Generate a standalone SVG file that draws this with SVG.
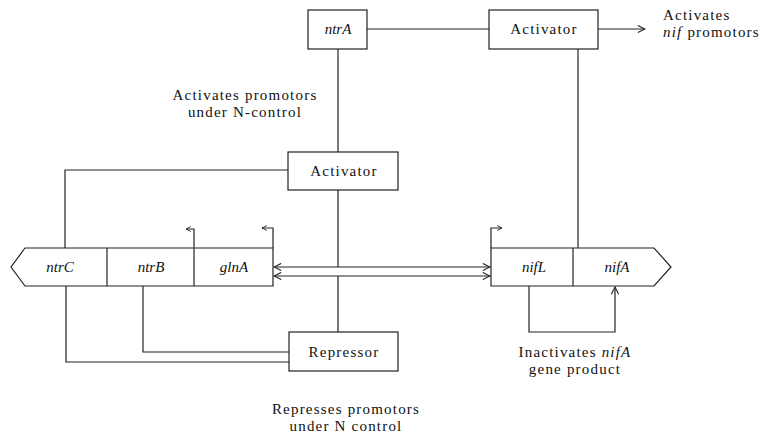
<svg xmlns="http://www.w3.org/2000/svg" width="760" height="437" viewBox="0 0 760 437">
<style>
.box{fill:#fff;stroke:#222;stroke-width:1.2}
.ln{fill:none;stroke:#222;stroke-width:1.2}
.t{font-family:"Liberation Serif","Times New Roman",serif;font-size:15px;fill:#111;letter-spacing:1.2px}
.g{font-family:"Liberation Serif","Times New Roman",serif;font-size:15px;font-style:italic;fill:#111}
.m{text-anchor:middle}
</style>
<defs>
<marker id="ah" viewBox="0 0 10 10" refX="9" refY="5" markerWidth="9" markerHeight="9" markerUnits="userSpaceOnUse" orient="auto-start-reverse">
<path d="M1,1 L9,5 L1,9" fill="none" stroke="#222" stroke-width="1.2"/>
</marker>
<marker id="sh" viewBox="0 0 10 10" refX="9" refY="5" markerWidth="6" markerHeight="6" markerUnits="userSpaceOnUse" orient="auto">
<path d="M1,1 L9,5 L1,9" fill="none" stroke="#222" stroke-width="1.5"/>
</marker>
</defs>
<g id="connectors">
<line class="ln" x1="367" y1="29" x2="489" y2="29"/>
<line class="ln" x1="598" y1="29" x2="645" y2="29" marker-end="url(#ah)"/>
<line class="ln" x1="338" y1="49" x2="338" y2="152"/>
<line class="ln" x1="578" y1="49" x2="578" y2="248"/>
<polyline class="ln" points="288,170 65,170 65,248"/>
<line class="ln" x1="338" y1="190" x2="338" y2="267"/>
<line class="ln" x1="338" y1="276" x2="338" y2="332"/>
<polyline class="ln" points="194,248 194,229 186,229" marker-end="url(#sh)"/>
<polyline class="ln" points="273,248 273,228 262,228" marker-end="url(#sh)"/>
<polyline class="ln" points="491,248 491,228 502,228" marker-end="url(#sh)"/>
<line class="ln" x1="274" y1="267" x2="490" y2="267" marker-start="url(#ah)" marker-end="url(#ah)"/>
<line class="ln" x1="274" y1="276" x2="490" y2="276" marker-start="url(#ah)" marker-end="url(#ah)"/>
<polyline class="ln" points="66,286 66,362 289,362"/>
<polyline class="ln" points="143,286 143,352 289,352"/>
<polyline class="ln" points="529,286 529,332 615,332 615,287" marker-end="url(#ah)"/>
</g>
<g id="ntrA">
<rect class="box" x="308" y="10" width="59" height="39"/>
<text class="g m" x="338" y="34">ntrA</text>
</g>
<g id="activator-top">
<rect class="box" x="489" y="10" width="109" height="39"/>
<text class="t m" x="544" y="34">Activator</text>
</g>
<g id="activator-mid">
<rect class="box" x="288" y="152" width="110" height="38"/>
<text class="t m" x="344" y="176">Activator</text>
</g>
<g id="repressor">
<rect class="box" x="289" y="332" width="109" height="39"/>
<text class="t m" x="344" y="357">Repressor</text>
</g>
<g id="operon-ntr">
<path class="box" d="M25,248 L273,248 L273,286 L25,286 L11,267 Z"/>
<line class="ln" x1="107" y1="248" x2="107" y2="286"/>
<line class="ln" x1="194" y1="248" x2="194" y2="286"/>
<text class="g m" x="60" y="272">ntrC</text>
<text class="g m" x="151" y="272">ntrB</text>
<text class="g m" x="234" y="272">glnA</text>
</g>
<g id="operon-nif">
<path class="box" d="M491,248 L654,248 L671,267 L654,286 L491,286 Z"/>
<line class="ln" x1="573" y1="248" x2="573" y2="286"/>
<text class="g m" x="534" y="272">nifL</text>
<text class="g m" x="617" y="272">nifA</text>
</g>
<g id="labels">
<text class="t" x="663" y="20">Activates</text>
<text class="t" x="663" y="37"><tspan font-style="italic">nif</tspan> promotors</text>
<text class="t m" x="245" y="100">Activates promotors</text>
<text class="t m" x="245" y="117">under N-control</text>
<text class="t m" x="575" y="357">Inactivates <tspan font-style="italic">nifA</tspan></text>
<text class="t m" x="575" y="374">gene product</text>
<text class="t m" x="346" y="414">Represses promotors</text>
<text class="t m" x="346" y="431">under N control</text>
</g>
</svg>
